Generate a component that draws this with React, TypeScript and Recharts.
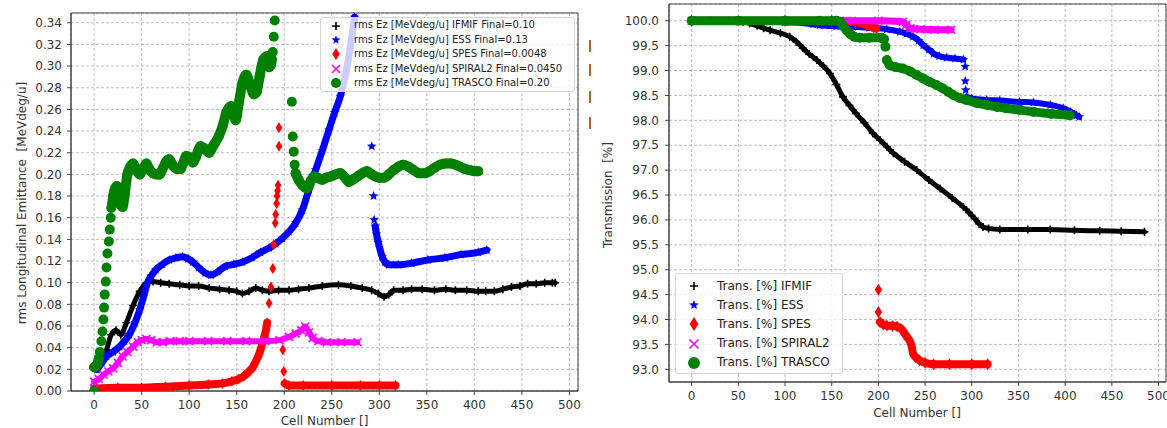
import React from "react";
import { ComposedChart, Scatter, XAxis, YAxis, CartesianGrid, ReferenceArea } from "recharts";

type Pt = [number, number];

// ---------- left panel: rms longitudinal emittance vs cell ----------
const emitIfmif: Pt[] = [
  [4, 0.021], [8, 0.03], [13, 0.038], [18, 0.052], [23, 0.056], [28, 0.052], [34, 0.063], [41, 0.079],
  [48, 0.092], [55, 0.0995], [62, 0.101], [70, 0.1], [79, 0.099], [90, 0.098], [100, 0.097], [110, 0.097],
  [121, 0.095], [132, 0.094], [142, 0.093], [150, 0.092], [156, 0.09], [163, 0.092], [170, 0.095],
  [177, 0.093], [184, 0.092], [194, 0.093], [205, 0.093], [215, 0.094], [226, 0.095], [240, 0.097],
  [257, 0.098], [270, 0.097], [282, 0.095], [292, 0.093], [299, 0.09], [305, 0.087], [310, 0.089],
  [315, 0.093], [325, 0.093], [334, 0.094], [345, 0.094], [358, 0.093], [370, 0.094], [380, 0.093],
  [392, 0.093], [404, 0.092], [412, 0.092], [421, 0.092], [430, 0.094], [439, 0.096], [448, 0.097],
  [456, 0.099], [465, 0.099], [474, 0.1], [482, 0.1], [485, 0.1],
];
const emitEssA: Pt[] = [
  [3, 0.02], [8, 0.026], [13, 0.032], [20, 0.036], [27, 0.041], [32, 0.046], [37, 0.052], [43, 0.063],
  [48, 0.075], [52, 0.087], [56, 0.0995], [60, 0.106], [65, 0.112], [72, 0.117], [79, 0.121], [86, 0.123],
  [93, 0.124], [99, 0.122], [104, 0.119], [110, 0.114], [117, 0.109], [123, 0.107], [130, 0.11],
  [138, 0.115], [147, 0.117], [156, 0.119], [166, 0.123], [175, 0.128], [184, 0.132], [191, 0.136],
  [198, 0.141], [205, 0.147], [212, 0.155], [219, 0.167], [226, 0.186], [233, 0.204], [240, 0.222],
  [247, 0.241], [253, 0.257], [259, 0.272], [264, 0.29], [269, 0.315], [274, 0.345],
];
const emitEssJump: Pt[] = [[292, 0.226], [294, 0.18], [294.6, 0.158]];
const emitEssB: Pt[] = [
  [295.7, 0.152], [297, 0.145], [299, 0.137], [303, 0.124], [306, 0.119], [310, 0.1165], [320, 0.1165],
  [334, 0.118], [351, 0.121], [369, 0.123], [386, 0.126], [404, 0.128], [413, 0.13],
];
const emitSpesA: Pt[] = [
  [0, 0.002], [25, 0.003], [50, 0.003], [75, 0.004], [100, 0.005], [120, 0.006], [135, 0.007],
  [145, 0.009], [152, 0.011], [158, 0.014], [163, 0.018], [167, 0.022], [171, 0.029], [174, 0.035],
  [177, 0.044], [179, 0.05], [181, 0.057], [182, 0.063],
];
const emitSpesJump: Pt[] = [
  [184, 0.081], [186, 0.096], [188, 0.113], [189, 0.135], [190.5, 0.155], [191, 0.163], [192, 0.173],
  [192.5, 0.18], [193, 0.185], [193.5, 0.19], [194.5, 0.226], [194.5, 0.243], [198.5, 0.038], [199.5, 0.018],
];
const emitSpesB: Pt[] = [[200.5, 0.007], [205, 0.005], [220, 0.005], [250, 0.005], [280, 0.005], [300, 0.005], [317, 0.005]];
const emitSpiral2: Pt[] = [
  [0, 0.0086], [5, 0.011], [10, 0.015], [15, 0.018], [20, 0.021], [25, 0.026], [30, 0.032], [35, 0.036],
  [41, 0.041], [46, 0.045], [50, 0.047], [55, 0.048], [60, 0.047], [66, 0.045], [72, 0.045], [80, 0.046],
  [90, 0.046], [100, 0.046], [120, 0.046], [140, 0.046], [160, 0.046], [180, 0.046], [195, 0.047],
  [205, 0.05], [212, 0.053], [218, 0.056], [222, 0.0595], [226, 0.054], [230, 0.049], [236, 0.046],
  [245, 0.045], [260, 0.045], [277, 0.045],
];
const emitTrascoA: Pt[] = [[0, 0.022], [2, 0.023], [4, 0.026], [5, 0.03]];
const emitTrascoRise: Pt[] = [
  [0, 0], [6, 0.036], [7.7, 0.046], [8.8, 0.055], [9.8, 0.066], [10.5, 0.077], [11.2, 0.089], [12.3, 0.101],
  [13, 0.114], [14, 0.127], [15.5, 0.138], [16.5, 0.149], [17.5, 0.16], [18, 0.169],
];
const emitTrascoB: Pt[] = [
  [19, 0.172], [20, 0.18], [22, 0.187], [24, 0.189], [26, 0.183], [28, 0.172], [30, 0.17], [32, 0.18],
  [35, 0.2], [38, 0.207], [41, 0.21], [44, 0.205], [48, 0.2], [51, 0.204], [55, 0.21], [58, 0.205],
  [62, 0.201], [66, 0.2], [69, 0.2], [72, 0.205], [76, 0.212], [79, 0.214], [83, 0.208], [87, 0.205],
  [91, 0.205], [94, 0.211], [97, 0.217], [100, 0.216], [104, 0.211], [107, 0.216], [112, 0.226],
  [116, 0.224], [121, 0.22], [125, 0.226], [131, 0.235], [135, 0.244], [139, 0.257], [144, 0.263],
  [149, 0.25], [152, 0.265], [156, 0.284], [160, 0.292], [164, 0.283], [168, 0.274], [171, 0.276],
  [174, 0.29], [178, 0.306], [182, 0.309], [184, 0.299], [186, 0.301], [187, 0.306],
];
const emitTrascoJump: Pt[] = [[188, 0.313], [189, 0.327], [190, 0.342], [208, 0.267], [209, 0.235], [210, 0.221], [211, 0.209]];
const emitTrascoC: Pt[] = [
  [212, 0.201], [215, 0.195], [219, 0.19], [224, 0.187], [228, 0.194], [231, 0.198], [235, 0.197],
  [240, 0.195], [244, 0.197], [249, 0.198], [254, 0.2], [259, 0.201], [264, 0.197], [268, 0.193],
  [272, 0.195], [277, 0.198], [282, 0.201], [287, 0.203], [292, 0.2], [296, 0.198], [300, 0.197],
  [305, 0.197], [310, 0.2], [315, 0.204], [320, 0.207], [325, 0.209], [331, 0.207], [336, 0.204],
  [342, 0.201], [348, 0.201], [353, 0.203], [358, 0.206], [364, 0.209], [370, 0.21], [375, 0.21],
  [380, 0.209], [385, 0.207], [390, 0.205], [395, 0.204], [400, 0.203], [404, 0.203],
];

// ---------- right panel: transmission vs cell ----------
const transIfmif: Pt[] = [
  [0, 100], [20, 100], [40, 100], [55, 99.98], [62, 99.95], [70, 99.9], [77, 99.85], [84, 99.81],
  [95, 99.75], [105, 99.68], [112, 99.58], [119, 99.45], [126, 99.33], [134, 99.21], [141, 99.09],
  [148, 98.94], [155, 98.72], [162, 98.47], [169, 98.3], [176, 98.14], [185, 97.95], [194, 97.74],
  [202, 97.6], [209, 97.47], [216, 97.34], [228, 97.17], [241, 97.0], [254, 96.8], [266, 96.63],
  [279, 96.44], [291, 96.26], [297, 96.15], [303, 96.03], [308, 95.92], [312, 95.86], [318, 95.83],
  [330, 95.81], [360, 95.81], [384, 95.81], [410, 95.79], [437, 95.78], [460, 95.77], [485, 95.76],
];
const transEssA: Pt[] = [
  [0, 100], [50, 100], [100, 99.97], [130, 99.93], [137, 99.91], [155, 99.89], [173, 99.88], [190, 99.86],
  [209, 99.83], [223, 99.78], [230, 99.74], [237, 99.68], [243, 99.6], [248, 99.51], [254, 99.42],
  [259, 99.34], [265, 99.29], [273, 99.26], [282, 99.24], [291, 99.22],
];
const transEssJump: Pt[] = [[293, 99.08], [293, 98.79], [293.5, 98.61]];
const transEssB: Pt[] = [
  [294.4, 98.47], [300, 98.44], [316, 98.41], [330, 98.4], [351, 98.37], [366, 98.36], [384, 98.31],
  [398, 98.24], [406, 98.17], [412, 98.1], [415, 98.07],
];
const transSpesA: Pt[] = [[0, 100], [100, 100], [150, 100], [175, 99.97], [187, 99.91], [195, 99.86], [198, 99.85]];
const transSpesJump: Pt[] = [[200, 94.6], [200, 94.15]];
const transSpesB: Pt[] = [
  [201.6, 93.95], [205, 93.9], [209, 93.88], [215, 93.87], [220, 93.86], [225, 93.8], [228, 93.72],
  [231, 93.64], [234, 93.55], [236, 93.43], [237, 93.32], [240, 93.24], [244, 93.18], [250, 93.13],
  [259, 93.1], [276, 93.1], [300, 93.1], [317, 93.1],
];
const transSpiral2: Pt[] = [[0, 100], [100, 100], [166, 100], [200, 100], [226, 99.98], [230, 99.92], [234, 99.85], [245, 99.83], [260, 99.82], [278, 99.82]];
const transTrascoA: Pt[] = [
  [0, 100], [50, 100], [100, 100], [137, 100], [155, 100], [159, 99.98], [162, 99.9], [166, 99.81],
  [170, 99.73], [174, 99.68], [180, 99.66], [190, 99.66], [203, 99.66], [206, 99.63],
];
const transTrascoJump: Pt[] = [[207.5, 99.48]];
const transTrascoB: Pt[] = [
  [209, 99.21], [212, 99.11], [218, 99.07], [226, 99.04], [234, 98.98], [241, 98.91], [248, 98.84],
  [255, 98.77], [262, 98.71], [269, 98.64], [275, 98.57], [280, 98.51], [287, 98.45], [294, 98.41],
  [305, 98.35], [316, 98.31], [327, 98.27], [337, 98.24], [351, 98.21], [366, 98.17], [385, 98.13], [405, 98.1],
];

const cellTicks = [0, 50, 100, 150, 200, 250, 300, 350, 400, 450, 500];
const emitTicks = [0, 0.02, 0.04, 0.06, 0.08, 0.1, 0.12, 0.14, 0.16, 0.18, 0.2, 0.22, 0.24, 0.26, 0.28, 0.3, 0.32, 0.34];
const transTicks = [93, 93.5, 94, 94.5, 95, 95.5, 96, 96.5, 97, 97.5, 98, 98.5, 99, 99.5, 100];

const emitLegend = [
  "rms Ez [MeVdeg/u] IFMIF Final=0.10",
  "rms Ez [MeVdeg/u] ESS Final=0.13",
  "rms Ez [MeVdeg/u] SPES Final=0.0048",
  "rms Ez [MeVdeg/u] SPIRAL2 Final=0.0450",
  "rms Ez [MeVdeg/u] TRASCO Final=0.20",
];
const transLegend = ["Trans. [%] IFMIF", "Trans. [%] ESS", "Trans. [%] SPES", "Trans. [%] SPIRAL2", "Trans. [%] TRASCO"];

type Kind = "plus" | "star" | "diamond" | "x" | "circle";
const kinds: Kind[] = ["plus", "star", "diamond", "x", "circle"];
const colors = ["#000000", "#0000ff", "#ff0000", "#ff00ff", "#008000"];
const font = "'DejaVu Sans', sans-serif";
const axisColor = "#444";

function Marker({ kind, cx, cy, color, s }: { kind: Kind; cx: number; cy: number; color: string; s: number }) {
  if (cx == null || cy == null) return null;
  if (kind === "plus")
    return <path d={`M${cx - s},${cy}H${cx + s}M${cx},${cy - s}V${cy + s}`} stroke={color} strokeWidth={1.6} fill="none" />;
  if (kind === "x")
    return <path d={`M${cx - s},${cy - s}L${cx + s},${cy + s}M${cx - s},${cy + s}L${cx + s},${cy - s}`} stroke={color} strokeWidth={1.6} fill="none" />;
  if (kind === "diamond")
    return <polygon points={`${cx},${cy - s} ${cx + s * 0.62},${cy} ${cx},${cy + s} ${cx - s * 0.62},${cy}`} fill={color} />;
  if (kind === "star") {
    const pts: string[] = [];
    for (let i = 0; i < 10; i++) {
      const a = ((-90 + i * 36) * Math.PI) / 180;
      const r = i % 2 ? s * 0.45 : s;
      pts.push(`${cx + r * Math.cos(a)},${cy + r * Math.sin(a)}`);
    }
    return <polygon points={pts.join(" ")} fill={color} />;
  }
  return <circle cx={cx} cy={cy} r={s} fill={color} />;
}

type Series = { dense: Pt[][]; sparse: Pt[]; width: number; size: number };

const toXY = (pts: Pt[]) => pts.map(([x, y]) => ({ x, y }));

function renderSeries(list: Series[], prefix: string) {
  const out: React.ReactNode[] = [];
  list.forEach((s, i) => {
    const kind = kinds[i];
    const color = colors[i];
    s.dense.forEach((seg, j) => {
      out.push(
        <Scatter
          key={`${prefix}-${i}-d${j}`}
          name={`${prefix}-${i}-d${j}`}
          data={toXY(seg)}
          isAnimationActive={false}
          line={{ stroke: color, strokeWidth: s.width, strokeLinecap: "round", strokeLinejoin: "round" }}
          lineJointType="monotoneX"
          shape={(p: any) => <Marker kind={kind} cx={p.cx} cy={p.cy} color={color} s={s.size} />}
        />
      );
    });
    if (s.sparse.length)
      out.push(
        <Scatter
          key={`${prefix}-${i}-s`}
          name={`${prefix}-${i}-s`}
          data={toXY(s.sparse)}
          isAnimationActive={false}
          shape={(p: any) => <Marker kind={kind} cx={p.cx} cy={p.cy} color={color} s={s.size} />}
        />
      );
  });
  return out;
}

const emitSeries: Series[] = [
  { dense: [emitIfmif], sparse: [], width: 5, size: 4 },
  { dense: [emitEssA, emitEssB], sparse: emitEssJump, width: 7, size: 5 },
  { dense: [emitSpesA, emitSpesB], sparse: emitSpesJump, width: 8, size: 5.5 },
  { dense: [emitSpiral2], sparse: [], width: 6, size: 4 },
  { dense: [emitTrascoA, emitTrascoB, emitTrascoC], sparse: emitTrascoRise.concat(emitTrascoJump), width: 10, size: 5 },
];
const transSeries: Series[] = [
  { dense: [transIfmif], sparse: [], width: 5, size: 4 },
  { dense: [transEssA, transEssB], sparse: transEssJump, width: 6, size: 5 },
  { dense: [transSpesA, transSpesB], sparse: transSpesJump, width: 8, size: 6 },
  { dense: [transSpiral2], sparse: [], width: 7, size: 4 },
  { dense: [transTrascoA, transTrascoB], sparse: transTrascoJump, width: 9, size: 5 },
];

const emitX: [number, number] = [-24.3, 509];
const emitY: [number, number] = [0, 0.349];
const transX: [number, number] = [-24.3, 508];
const transY: [number, number] = [92.745, 100.336];

const tickStyle = { fontSize: 12, fill: "#333", fontFamily: font };

function Legend({ items, left, top, width, height, fontSize, rowStart, rowGap, markX, textX, markScale }: any) {
  return (
    <div
      style={{
        position: "absolute", left, top, width, height, boxSizing: "border-box",
        background: "rgba(255,255,255,0.8)", border: "1px solid #d4d4d4", borderRadius: 3,
        fontFamily: font, fontSize, color: "#222",
      }}
    >
      {items.map((t: string, i: number) => (
        <div key={t} style={{ position: "absolute", left: 0, top: rowStart + i * rowGap, height: 0 }}>
          <svg width={24} height={16} style={{ position: "absolute", left: markX - 12, top: -8 }}>
            <Marker kind={kinds[i]} cx={12} cy={8} color={colors[i]} s={markScale[i]} />
          </svg>
          <span style={{ position: "absolute", left: textX, top: -fontSize * 0.62, whiteSpace: "pre" }}>{t}</span>
        </div>
      ))}
    </div>
  );
}

const label = (text: string, x: number, y: number, rotate = false) => (
  <div
    style={{
      position: "absolute", left: x, top: y, whiteSpace: "pre", fontFamily: font, fontSize: 12, color: "#333",
      transform: `translate(-50%,-50%)${rotate ? " rotate(-90deg)" : ""}`,
    }}
  >
    {text}
  </div>
);

export default function App() {
  return (
    <div style={{ position: "absolute", left: 0, top: 0, width: 1167, height: 428, background: "#fff", overflow: "hidden" }}>
      <div style={{ position: "absolute", left: 0, top: 0 }}>
        <ComposedChart width={600} height={428} margin={{ top: 13, right: 22, bottom: 0, left: 0 }}>
          <CartesianGrid stroke="#bdbdbd" strokeDasharray="3 2" />
          <XAxis dataKey="x" type="number" domain={emitX} ticks={cellTicks} allowDataOverflow interval={0}
            height={37} tick={tickStyle} tickSize={4} tickMargin={5} stroke={axisColor} />
          <YAxis dataKey="y" type="number" domain={emitY} ticks={emitTicks} allowDataOverflow interval={0}
            width={71} tick={tickStyle} tickSize={4} tickMargin={5} stroke={axisColor}
            tickFormatter={(v: number) => v.toFixed(2)} />
          {renderSeries(emitSeries, "emit")}
          <ReferenceArea x1={emitX[0]} x2={emitX[1]} y1={emitY[0]} y2={emitY[1]} fill="none" stroke={axisColor} strokeOpacity={1} />
        </ComposedChart>
      </div>
      <div style={{ position: "absolute", left: 590, top: 0 }}>
        <ComposedChart width={577} height={428} margin={{ top: 4, right: 1, bottom: 0, left: 0 }}>
          <CartesianGrid stroke="#bdbdbd" strokeDasharray="3 2" />
          <XAxis dataKey="x" type="number" domain={transX} ticks={cellTicks} allowDataOverflow interval={0}
            height={46} tick={tickStyle} tickSize={4} tickMargin={5} stroke={axisColor} />
          <YAxis dataKey="y" type="number" domain={transY} ticks={transTicks} allowDataOverflow interval={0}
            width={79} tick={tickStyle} tickSize={4} tickMargin={6} stroke={axisColor}
            tickFormatter={(v: number) => v.toFixed(1)} />
          {renderSeries(transSeries, "trans")}
          <ReferenceArea x1={transX[0]} x2={transX[1]} y1={transY[0]} y2={transY[1]} fill="none" stroke={axisColor} strokeOpacity={1} />
        </ComposedChart>
      </div>

      {label("rms Longitudinal Emittance  [MeVdeg/u]", 22, 203, true)}
      {label("Cell Number []", 324.5, 421)}
      {label("Transmission  [%]", 608, 195, true)}
      {label("Cell Number []", 917, 413)}

      <Legend items={emitLegend} left={320} top={17} width={255} height={75} fontSize={10}
        rowStart={7.5} rowGap={14.4} markX={15} textX={33} markScale={[4, 4.5, 6, 4, 5]} />
      <Legend items={transLegend} left={675} top={273} width={168} height={101} fontSize={12}
        rowStart={12} rowGap={19.2} markX={18} textX={41} markScale={[4, 5, 7, 4.5, 6]} />

      {[40, 64, 91, 117].map((t) => (
        <div key={t} style={{ position: "absolute", left: 589, top: t, width: 2, height: 12, background: "#b5651d" }} />
      ))}
    </div>
  );
}
